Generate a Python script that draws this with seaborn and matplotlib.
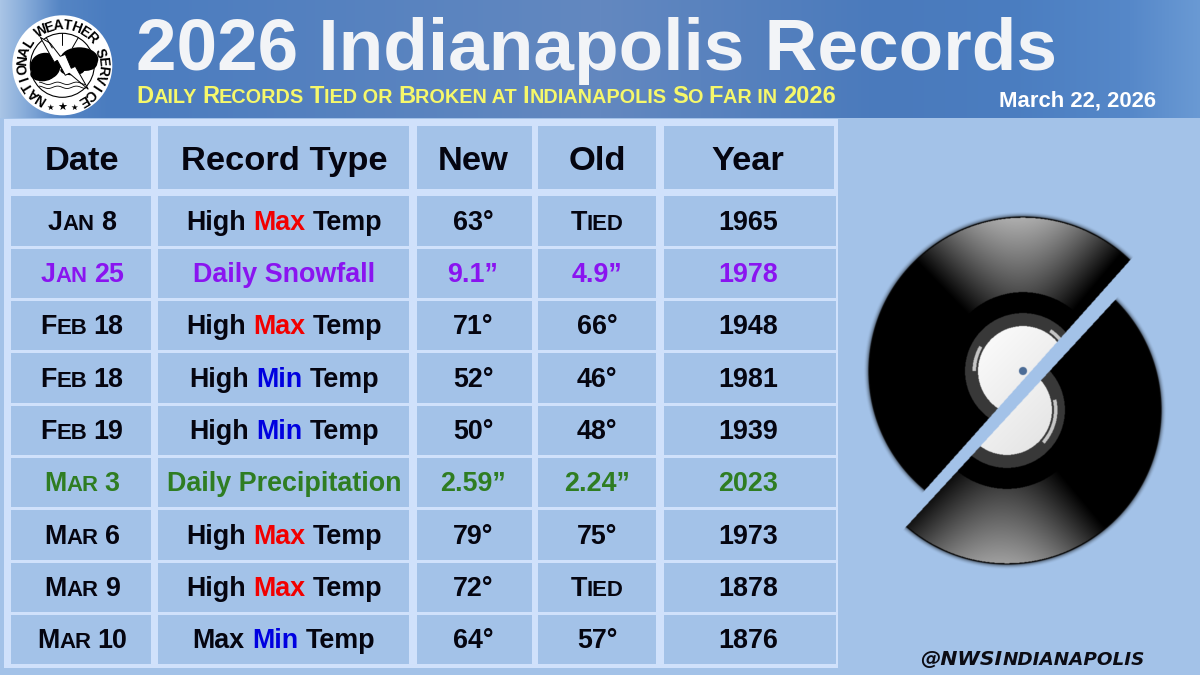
import numpy as np
import pandas as pd
import seaborn as sns
import matplotlib
matplotlib.use("Agg")
import matplotlib.pyplot as plt
from matplotlib.colors import ListedColormap, to_rgb
from matplotlib.patches import Circle, Ellipse, Polygon, Rectangle

# table contents
headers = ["Date", "Record Type", "New", "Old", "Year"]
dates = ["Jan 8", "Jan 25", "Feb 18", "Feb 18", "Feb 19", "Mar 3", "Mar 6", "Mar 9", "Mar 10"]
type_first = ["High ", "", "High ", "High ", "High ", "", "High ", "High ", "Max "]
type_mid = ["Max", "Daily Snowfall", "Max", "Min", "Min", "Daily Precipitation", "Max", "Max", "Min"]
type_last = [" Temp", "", " Temp", " Temp", " Temp", "", " Temp", " Temp", " Temp"]
new_vals = ["63°", "9.1”", "71°", "52°", "50°", "2.59”", "79°", "72°", "64°"]
old_vals = ["Tied", "4.9”", "66°", "46°", "48°", "2.24”", "75°", "Tied", "57°"]
years = ["1965", "1978", "1948", "1981", "1939", "2023", "1973", "1878", "1876"]
mid_colors = ["#f20000", "#8a14f0", "#f20000", "#0000e0", "#0000e0", "#2f7d22", "#f20000", "#f20000", "#0000e0"]
row_colors = ["#050510", "#8a14f0", "#050510", "#050510", "#050510", "#2f7d22", "#050510", "#050510", "#050510"]

title = "2026 Indianapolis Records"
subtitle = "Daily Records Tied or Broken at Indianapolis So Far in 2026"
date_stamp = "March 22, 2026"
handle = "@NWSIndianapolis"
logo_text = "NATIONAL WEATHER SERVICE"

# header band colour stops
band_x = [0, 25, 60, 110, 600, 880, 1010, 1130, 1200]
band_c = ["#a9c5e6", "#86abd9", "#5585c4", "#4a7cbf", "#6388c0", "#4a7abc", "#4a7dc0", "#5688c9", "#6a9ad4"]

BG = "#a3c2e8"
FRAME = "#d0e1fb"
INK = "#050510"

# cell edges of each column, pixels
col_edges = [(10, 150), (157, 409), (416, 531), (537, 656), (663, 835)]

sns.set_theme(style="white")
plt.rcParams["font.family"] = ["Liberation Sans", "DejaVu Sans"]

fig = plt.figure(figsize=(12, 6.75), dpi=100, facecolor=BG)
W, H = 1200, 675


def px_axes(x0, y0, x1, y1, z):
    a = fig.add_axes([x0 / W, 1 - y1 / H, (x1 - x0) / W, (y1 - y0) / H], zorder=z)
    a.patch.set_alpha(0)
    return a


base = px_axes(0, 0, W, H, 0)
stops = np.array([to_rgb(c) for c in band_c])
xs = np.arange(W)
band = np.stack([np.interp(xs, band_x, stops[:, i]) for i in range(3)], axis=1)[None, :, :]
base.imshow(band, extent=(0, W, 118, 0), aspect="auto")
base.add_patch(Rectangle((4, 119), 834, 549, color=FRAME, lw=0))
base.set_xlim(0, W)
base.set_ylim(H, 0)
base.axis("off")

# table cells, one heatmap per column
cell_cmap = ListedColormap([BG])
for x0, x1 in col_edges:
    hdr_right = min(x1, 833)
    hdr = px_axes(x0 - 1.5, 123.5, hdr_right + 1.5, 190.5, 1)
    sns.heatmap(pd.DataFrame([[0]]), ax=hdr, cmap=cell_cmap, cbar=False, linewidths=2.16,
                linecolor=FRAME, xticklabels=False, yticklabels=False)
    body = px_axes(x0 - 1.5, 194.5, x1 + 1.5, 665.5, 1)
    sns.heatmap(pd.DataFrame(np.zeros((len(dates), 1))), ax=body, cmap=cell_cmap, cbar=False,
                linewidths=2.16, linecolor=FRAME, xticklabels=False, yticklabels=False)

ov = px_axes(0, 0, W, H, 2)
ov.set_xlim(0, W)
ov.set_ylim(H, 0)
ov.axis("off")
rend = fig.canvas.get_renderer()


def draw_runs(runs, cx, y, weight="bold", style="normal", fam=None, left=None):
    # runs of (text, size, colour) placed side by side, centred on cx
    placed = []
    total = 0
    for s, size, col in runs:
        kw = dict(fontsize=size, color=col, fontweight=weight, fontstyle=style, va="baseline", ha="left")
        if fam:
            kw["family"] = fam
        stripped = s.strip()
        lead = (len(s) - len(s.lstrip())) * 0.278 * size / 0.72
        trail = (len(s) - len(s.rstrip())) * 0.278 * size / 0.72
        t = ov.text(0, y, stripped, **kw)
        w = t.get_window_extent(rend).width if stripped else 0
        placed.append((t, total + lead))
        total += lead + w + trail
    start = left if left is not None else cx - total / 2
    for t, off in placed:
        t.set_x(start + off)


def small_caps(s, size, col, ratio=0.82):
    runs = []
    cur, low = "", False
    for ch in s:
        is_low = ch.islower()
        if ch == " ":
            is_low = low
        if cur and is_low != low:
            runs.append((cur.upper(), size * ratio if low else size, col))
            cur = ""
        cur += ch
        low = is_low
    runs.append((cur.upper(), size * ratio if low else size, col))
    return runs


# title block
ov.text(136, 70, title, fontsize=52.6, fontweight="bold", color="#f2f4f7", va="baseline", ha="left")
draw_runs(small_caps(subtitle, 17, "#f6f86a", 0.84), 0, 103, left=136)
ov.text(1156, 107, date_stamp, fontsize=15.9, fontweight="bold", color="white", va="baseline", ha="right")
draw_runs(small_caps(handle, 14.7, "#0c0c14", 0.9), 0, 665, style="italic", fam="DejaVu Sans", left=920)

# header row and data rows
centers = [82, 284, 473, 597, 748]
for cx, name in zip(centers, headers):
    ov.text(cx, 170, name, fontsize=24.8, fontweight="bold", color=INK, ha="center", va="baseline")

pitch = (665.5 - 194.5) / len(dates)
for i in range(len(dates)):
    base_y = 194.5 + pitch * (i + 0.5) + 9
    col = row_colors[i]
    draw_runs(small_caps(dates[i], 19.4, col), centers[0], base_y)
    mid_runs = []
    if type_first[i]:
        mid_runs.append((type_first[i], 19.4, INK))
    mid_runs.append((type_mid[i], 19.4, mid_colors[i]))
    if type_last[i]:
        mid_runs.append((type_last[i], 19.4, INK))
    draw_runs(mid_runs, centers[1], base_y)
    ov.text(centers[2], base_y, new_vals[i], fontsize=19.4, fontweight="bold", color=col, ha="center", va="baseline")
    if old_vals[i].isalpha():
        draw_runs(small_caps(old_vals[i], 19.4, col), centers[3], base_y)
    else:
        ov.text(centers[3], base_y, old_vals[i], fontsize=19.4, fontweight="bold", color=col, ha="center", va="baseline")
    ov.text(centers[4], base_y, years[i], fontsize=19.4, fontweight="bold", color=col, ha="center", va="baseline")


# vinyl record split in two halves
def record_half(cx, cy, p, q, keep_sign, peak_deg, rim, inner, arcs, hole):
    x0, y0, x1, y1 = 850, 200, 1180, 580
    yy, xx = np.mgrid[y0:y1:(y1 - y0) * 2j, x0:x1:(x1 - x0) * 2j]
    dx, dy = xx - cx, cy - yy
    r = np.hypot(dx, dy)
    th = np.degrees(np.arctan2(dy, dx))
    d = ((th - peak_deg + 180) % 360) - 180
    taper = np.cos(np.clip(d / 42, -1, 1) * np.pi / 2)
    frac = np.clip((r - 79) / 74, 0, 1)
    grey = taper * (inner + (rim - inner) * frac)
    grey[r < 79] = 0
    grey[r > 153.5] = 0.02
    rgb = np.repeat(grey[:, :, None], 3, axis=2)
    ring = r < 58
    rgb[ring] = 0.22
    lab = r < 45
    rgb[lab] = (0.94 - 0.0006 * (xx - cx + yy - cy))[lab][:, None]
    for a0, a1 in arcs:
        m = (r > 47) & (r < 50.5) & (th > a0) & (th < a1)
        rgb[m] = 0.78
    if hole:
        rgb[r < 4] = to_rgb("#4c6c96")
    side = (q[0] - p[0]) * (yy - p[1]) - (q[1] - p[1]) * (xx - p[0])
    inside = keep_sign * side > 0
    alpha = np.clip(155.5 - r, 0, 1)
    shadow = np.clip((160 - r) / 5, 0, 1) ** 2 * 0.45
    a = np.maximum(alpha, shadow) * inside
    rgb[r > 155] = 0
    ov.imshow(np.dstack([rgb, a]), extent=(x0, x1, y1, y0), aspect="auto", interpolation="bilinear")


record_half(1023, 371, (1133, 257), (925, 490), 1, 92, 0.68, 0.3, [(38, 56), (150, 190)], True)
record_half(1007, 410, (1117, 298), (905, 528), -1, -92, 0.62, 0.25, [(-42, 12)], False)
ov.set_xlim(0, W)
ov.set_ylim(H, 0)

# NWS logo
lx, ly = 62.3, 65.3
ov.add_patch(Circle((lx, ly), 50, fc="white", ec="none"))
n = len(logo_text)
for k, ch in enumerate(logo_text):
    ang = np.radians(-147.5 + k * 296.5 / (n - 1))
    ov.text(lx + 40 * np.sin(ang), ly - 40 * np.cos(ang), ch, fontsize=10, fontweight="bold", color="black",
            rotation=-np.degrees(ang), rotation_mode="anchor", ha="center", va="center")
ov.add_patch(Circle((lx, ly), 32, fc="none", ec="black", lw=0.8))
for deg in (-30, 0, 30):
    a = np.radians(deg)
    ov.plot([lx + 20 * np.sin(a), lx + 32 * np.sin(a)], [ly - 20 * np.cos(a), ly - 32 * np.cos(a)], color="black", lw=0.7)
blobs = [(-17, 1, 30, 27), (-20, 9, 24, 14), (-8, -3, 18, 16), (17, -6, 38, 24), (24, -2, 22, 15), (8, -2, 20, 20), (10, 5, 24, 10)]
for bx, by, bw, bh in blobs:
    ov.add_patch(Ellipse((lx + bx, ly + by), bw, bh, fc="black", ec="none"))
for off in (18, 22):
    ws = np.linspace(-23, 23, 40)
    ov.plot(lx + ws, ly + off + 1.2 * np.sin(ws / 3), color="black", lw=0.6)
bolt = [(-22, -28), (-12, -22), (-2, -9), (3, -11), (9, 3), (13, 1), (26, 24), (7, 8), (3, 10), (-5, -5), (-8, -3)]
ov.add_patch(Polygon([(lx + a, ly + b) for a, b in bolt], closed=True, fc="white", ec="black", lw=0.7))
for sx, sy, ss in [(-12, 42, 6), (0, 43, 8), (12, 42, 6)]:
    ov.text(lx + sx, ly + sy, "★", family="DejaVu Sans", fontsize=ss, color="black", ha="center", va="center")

fig.savefig("out.png", dpi=100, facecolor=BG)
